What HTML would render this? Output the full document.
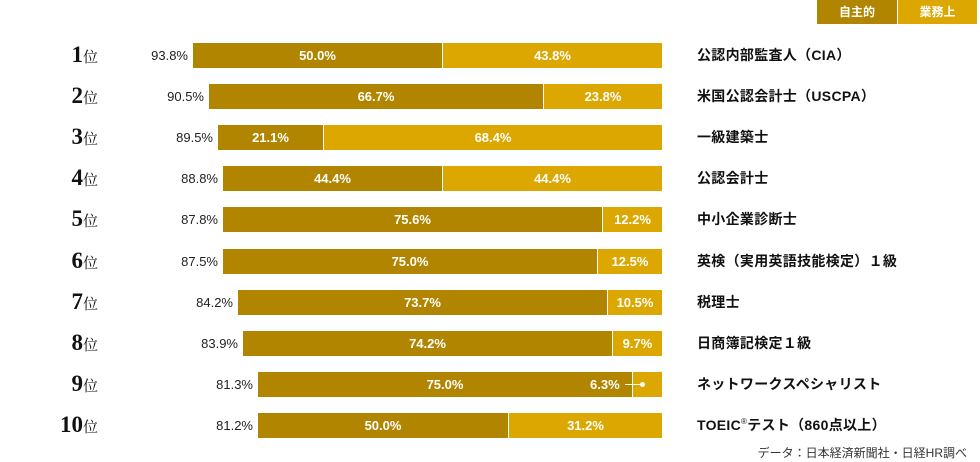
<!DOCTYPE html><html><head><meta charset="utf-8"><style>
body{margin:0;width:980px;height:462px;background:#fff;position:relative;overflow:hidden;font-family:"Liberation Sans","Noto Sans CJK JP",sans-serif}
div{position:absolute}
.rk{width:98px;left:0;text-align:right;font-family:"Liberation Serif","Noto Serif CJK SC",serif;font-weight:bold;color:#111;line-height:26px}
.rk b{font-size:23px}.rk span{font-size:15px;font-weight:normal}
.pc{width:80px;text-align:right;font-size:13px;color:#222;line-height:26px}
.d{background:#b18500;height:25px;color:#fff;font-weight:bold;font-size:13px;text-align:center;line-height:25px}
.l{background:#dba700;height:25px;color:#fff;font-weight:bold;font-size:13px;text-align:center;line-height:25px;border-left:1px solid #fff;box-sizing:border-box}
.nm{left:697px;font-size:14px;font-weight:bold;color:#111;line-height:25px;height:25px;white-space:nowrap;letter-spacing:0.3px}
.nm i{font-style:normal;font-size:8px;font-weight:normal;position:relative;top:-6px;line-height:0}
</style></head><body>
<div style="left:817px;top:0;width:80px;height:24px;background:#b18500;color:#fff;font-size:12px;font-weight:bold;text-align:center;line-height:24px">自主的</div>
<div style="left:897px;top:0;width:80px;height:24px;background:#dba700;color:#fff;font-size:12px;font-weight:bold;text-align:center;line-height:24px;border-left:1px solid #fff;box-sizing:border-box">業務上</div>
<div id="c"></div>
<script>
var R=[[93.8,50.0,43.8,"公認内部監査人（CIA）",193,442],[90.5,66.7,23.8,"米国公認会計士（USCPA）",209,543],[89.5,21.1,68.4,"一級建築士",218,323],[88.8,44.4,44.4,"公認会計士",223,442],[87.8,75.6,12.2,"中小企業診断士",223,602],[87.5,75.0,12.5,"英検（実用英語技能検定）１級",223,597],[84.2,73.7,10.5,"税理士",238,607],[83.9,74.2,9.7,"日商簿記検定１級",243,612],[81.3,75.0,6.3,"ネットワークスペシャリスト",258,632],[81.2,50.0,31.2,"TOEIC<i>®</i>テスト（860点以上）",258,508]];
var h="";R.forEach(function(r,i){var y=43+i*41.1,x=r[4],dw=r[5]-x;
h+='<div class="rk" style="top:'+(y-1)+'px"><b>'+(i+1)+'</b><span>位</span></div>';
h+='<div class="pc" style="left:'+(x-85)+'px;top:'+y+'px">'+r[0].toFixed(1)+'%</div>';
h+='<div class="d" style="left:'+x+'px;top:'+y+'px;width:'+dw+'px">'+r[1].toFixed(1)+'%</div>';
if(i==8){h+='<div class="l" style="left:'+(x+dw)+'px;top:'+y+'px;width:'+(662-x-dw)+'px"></div><div style="left:590px;top:'+y+'px;color:#fff;font-weight:bold;font-size:13px;line-height:25px">6.3%</div><div style="left:625px;top:'+(y+12)+'px;width:17px;height:1px;background:#fff"></div><div style="left:640px;top:'+(y+10)+'px;width:5px;height:5px;border-radius:50%;background:#fff"></div>';}
else h+='<div class="l" style="left:'+(x+dw)+'px;top:'+y+'px;width:'+(662-x-dw)+'px">'+r[2].toFixed(1)+'%</div>';
h+='<div class="nm" style="top:'+y+'px">'+r[3]+'</div>';});
document.getElementById("c").innerHTML=h;
</script>
<div style="right:13px;top:444px;font-size:12px;color:#333">データ：日本経済新聞社・日経HR調べ</div>
</body></html>
